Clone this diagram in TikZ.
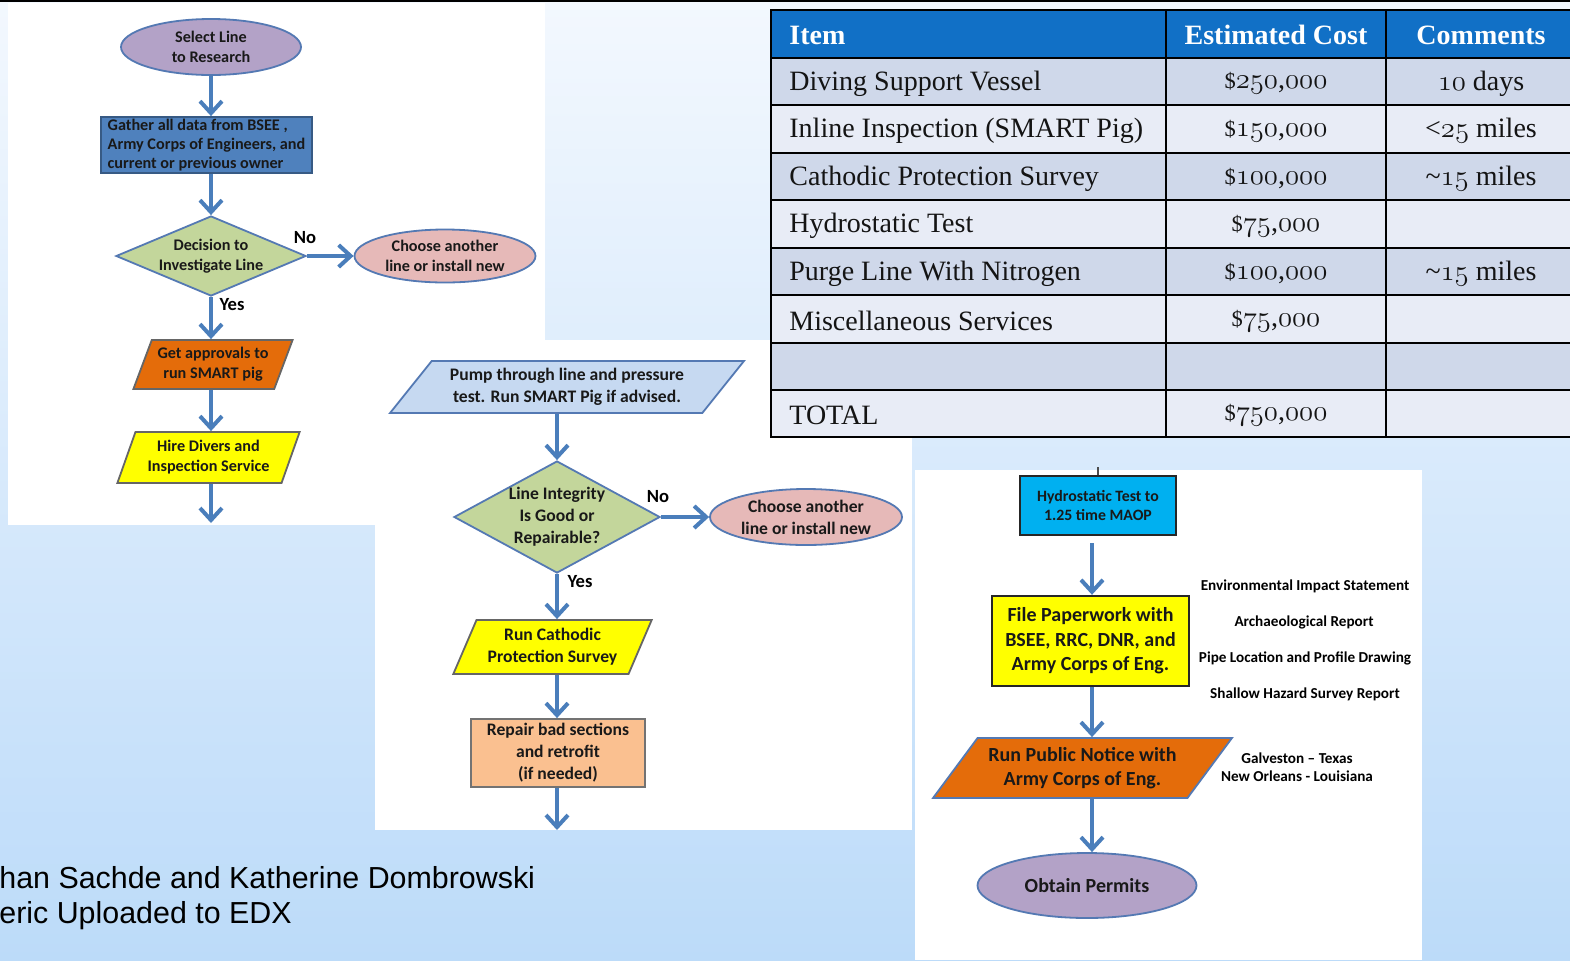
\documentclass[tikz,border=0pt]{standalone}
\usepackage{fontspec}
\usepackage{graphicx}
\usetikzlibrary{shapes.geometric,arrows.meta}
\newfontfamily\carl{Carlito}[Ligatures=TeX]
\newfontfamily\arialf{Liberation Sans}
\newfontfamily\tabf{Liberation Serif}[Ligatures=TeX]
\newcommand\osn[1]{{\usefont{OML}{cmm}{m}{it}#1}}
\newcommand\money[2]{{\scalebox{0.8}{\$}}\osn{#1},\osn{#2}}
\definecolor{bgTop}{HTML}{F3F8FE}
\definecolor{bgBot}{HTML}{BCDBF9}
\definecolor{arrc}{HTML}{4A7EBB}
\definecolor{cEdge}{HTML}{5479B3}
\definecolor{cPurple}{HTML}{B3A2C7}
\definecolor{cPink}{HTML}{E6B9B8}
\definecolor{cGreen}{HTML}{C3D69B}
\definecolor{cBlue}{HTML}{4F81BD}
\definecolor{cOrange}{HTML}{E46C0A}
\definecolor{cYellow}{HTML}{FFFF00}
\definecolor{cLBlue}{HTML}{C6D9F1}
\definecolor{cPeach}{HTML}{FAC090}
\definecolor{cCyan}{HTML}{00B0F0}
\definecolor{tHead}{HTML}{1170C6}
\definecolor{tDark}{HTML}{CFD8EA}
\definecolor{tLight}{HTML}{E8ECF6}
\tikzset{
  base/.style={inner sep=0pt, align=center, line width=0.9pt, text=black!90},
  f1/.style={font=\carl\bfseries\fontsize{8.1}{10}\selectfont},
  f2/.style={font=\carl\bfseries\fontsize{8.8}{11}\selectfont},
  f3s/.style={font=\carl\bfseries\fontsize{7.9}{9.6}\selectfont},
  f3l/.style={font=\carl\bfseries\fontsize{10}{12.3}\selectfont},
  note/.style={font=\carl\bfseries\fontsize{7.6}{9}\selectfont, inner sep=0pt, align=center},
  lab/.style={font=\carl\bfseries\fontsize{9.3}{10}\selectfont, inner sep=0pt},
  ell/.style={base, ellipse, draw=cEdge, fill=#1},
  box/.style={base, rectangle, fill=#1},
  dia/.style={base, diamond, fill=cGreen, draw=cEdge, aspect=#1},
  para/.style n args={3}{base, trapezium, trapezium left angle=#1, trapezium right angle=#2, trapezium stretches=true, fill=#3},
  arr/.style={draw=arrc, line width=2pt, -{Straight Barb[length=6pt,width=11pt]}},
  tb/.style={font=\tabf\fontsize{14}{16}\selectfont, inner sep=0pt, text=black!92},
  th/.style={font=\tabf\bfseries\fontsize{14}{16}\selectfont, text=white, inner sep=0pt},
}
\begin{document}
\begin{tikzpicture}[x=0.5pt,y=-0.5pt]
\useasboundingbox (0,0) rectangle (1570,960);
% background and panels
\shade[top color=bgTop, bottom color=bgBot] (0,0) rectangle (1570,960);
\draw[line width=1pt] (0,1) -- (1570,1);
\fill[white] (8,3) rectangle (545,525);
\fill[white] (375,340) rectangle (912,830);
\fill[white] (915,470) rectangle (1422,960);

% ---------- flow 1
\node[ell=cPurple, f1, minimum width=90pt, minimum height=28pt] (s1) at (211,47) {Select Line\\to Research};
\node[box=cBlue, draw=cBlue!70!black, font=\carl\bfseries\fontsize{8.1}{9.7}\selectfont, align=left, minimum width=105.5pt, minimum height=28pt] (g1) at (206.5,145) {Gather all data from BSEE ,\\Army Corps of Engineers, and\\current or previous owner};
\node[dia=2.375, f1, minimum width=95pt, minimum height=40pt] (d1) at (211,256) {Decision to\\Investigate Line};
\node[ell=cPink, f1, minimum width=90.5pt, minimum height=26.5pt] (c1) at (445,256) {Choose another\\line or install new};
\node[para={64}{116}{cOrange}, draw=black!60, f1, minimum width=80pt, minimum height=24.5pt] (p1) at (213,364.5) {Get approvals to\\run SMART pig};
\node[para={66}{114}{cYellow}, draw=black!60, f1, minimum width=91.5pt, minimum height=25.5pt] (p2) at (208.5,457.5) {Hire Divers and\\Inspection Service};
\coordinate (e1) at (211,523);
\node[lab] (no1) at (305,238) {No};
\node[lab] (yes1) at (232,305) {Yes};
\draw[arr] (s1.south) -- (s1.south |- g1.north);
\draw[arr] (s1.south |- g1.south) -- (d1.north);
\draw[arr] (d1.east) -- (c1.west);
\draw[arr] (d1.south) -- (d1.south |- p1.north);
\draw[arr] (d1.south |- p1.south) -- (d1.south |- p2.north);
\draw[arr] (d1.south |- p2.south) -- (e1);

% ---------- flow 2
\node[para={46}{134}{cLBlue}, draw=cEdge, f2, minimum width=177pt, minimum height=26pt] (q1) at (567,387) {Pump through line and pressure\\test. Run SMART Pig if advised.};
\node[dia=1.84, f2, minimum width=103pt, minimum height=56pt] (d2) at (557,517) {Line Integrity\\Is Good or\\Repairable?};
\node[ell=cPink, f2, minimum width=96pt, minimum height=28pt] (c2) at (806,517) {Choose another\\line or install new};
\node[para={62}{118}{cYellow}, draw=black!60, f2, minimum width=99.5pt, minimum height=27pt] (q2) at (552.5,647) {Run Cathodic\\Protection Survey};
\node[box=cPeach, draw=black!55, f2, minimum width=87pt, minimum height=34pt] (r2) at (558,753) {Repair bad sections\\and retrofit\\(if needed)};
\coordinate (e2) at (557,830);
\node[lab] (no2) at (658,497) {No};
\node[lab] (yes2) at (580,582) {Yes};
\draw[arr] (d2.north |- q1.south) -- (d2.north);
\draw[arr] (d2.east) -- (c2.west);
\draw[arr] (d2.south) -- (d2.south |- q2.north);
\draw[arr] (d2.south |- q2.south) -- (d2.south |- r2.north);
\draw[arr] (d2.south |- r2.south) -- (e2);

% ---------- flow 3
\node[box=cCyan, draw=black!85, line width=1.2pt, f3s, minimum width=78pt, minimum height=29.5pt] (h3) at (1098,505.5) {Hydrostatic Test to\\1.25 time MAOP};
\node[box=cYellow, draw=black!85, line width=1.2pt, f3l, minimum width=98.5pt, minimum height=45pt] (f3) at (1090.5,641) {File Paperwork with\\BSEE, RRC, DNR, and\\Army Corps of Eng.};
\node[para={46.5}{133.5}{cOrange}, draw=cEdge, f3l, minimum width=149.5pt, minimum height=30pt] (n3) at (1082.5,768) {Run Public Notice with\\Army Corps of Eng.};
\node[ell=cPurple, f3l, minimum width=109.5pt, minimum height=32.5pt] (o3) at (1087,885.5) {Obtain Permits};
\coordinate (t3) at (1098,467);
\coordinate (ax3) at (1092,0);
\draw[black!70, line width=0.6pt] (t3) -- (h3.north);
\draw[arr, shorten <=3.5pt] (ax3 |- h3.south) -- (ax3 |- f3.north);
\draw[arr] (ax3 |- f3.south) -- (ax3 |- n3.north);
\draw[arr] (ax3 |- n3.south) -- (ax3 |- o3.north);
\node[note] (m1) at (1305,586) {Environmental Impact Statement};
\node[note] (m2) at (1304,622) {Archaeological Report};
\node[note] (m3) at (1305,658) {Pipe Location and Profile Drawing};
\node[note] (m4) at (1305,694) {Shallow Hazard Survey Report};
\node[note] (m5) at (1297,767) {Galveston -- Texas\\New Orleans - Louisiana};

% ---------- table
\fill[tHead] (771,10) rectangle (1572,58);
\foreach \ya/\yb/\c in {58/105/tDark,105/153/tLight,153/200/tDark,200/248/tLight,248/295/tDark,295/343/tLight,343/390/tDark,390/437/tLight}
  \fill[\c] (771,\ya) rectangle (1572,\yb);
\foreach \y in {10,58,105,153,200,248,295,343,390,437}
  \draw[line width=1pt] (770,\y) -- (1572,\y);
\foreach \x in {771,1166,1386}
  \draw[line width=1pt] (\x,10) -- (\x,437);
\node[th, anchor=west] (th1) at (789,35) {Item};
\node[th] (th2) at (1276,35) {Estimated Cost};
\node[th] (th3) at (1481,35) {Comments};
\node[tb, anchor=west] (ra1) at (789,83.5) {Diving Support Vessel};
\node[tb] (rb1) at (1276,83.5) {\money{250}{000}};
\node[tb] (rc1) at (1481,83.5) {\osn{10} days};
\node[tb, anchor=west] (ra2) at (789,131) {Inline Inspection (SMART Pig)};
\node[tb] (rb2) at (1276,131) {\money{150}{000}};
\node[tb] (rc2) at (1481,131) {<\osn{25} miles};
\node[tb, anchor=west] (ra3) at (789,178.5) {Cathodic Protection Survey};
\node[tb] (rb3) at (1276,178.5) {\money{100}{000}};
\node[tb] (rc3) at (1481,178.5) {\textasciitilde\osn{15} miles};
\node[tb, anchor=west] (ra4) at (789,226) {Hydrostatic Test};
\node[tb] (rb4) at (1276,226) {\money{75}{000}};
\node[tb, anchor=west] (ra5) at (789,273.5) {Purge Line With Nitrogen};
\node[tb] (rb5) at (1276,273.5) {\money{100}{000}};
\node[tb] (rc5) at (1481,273.5) {\textasciitilde\osn{15} miles};
\node[tb, anchor=west] (ra6) at (789,321) {Miscellaneous Services};
\node[tb] (rb6) at (1276,321) {\money{75}{000}};
\node[tb, anchor=west] (ra8) at (789,415.5) {TOTAL};
\node[tb] (rb8) at (1276,415.5) {\money{750}{000}};

% ---------- bottom text
\node[anchor=west, inner sep=0pt, font=\arialf\fontsize{15.2}{18}\selectfont] (a1) at (-1,878) {han Sachde and Katherine Dombrowski};
\node[anchor=west, inner sep=0pt, font=\arialf\fontsize{15.2}{18}\selectfont] (a2) at (-1,916) {eric Uploaded to EDX};
\end{tikzpicture}
\end{document}
